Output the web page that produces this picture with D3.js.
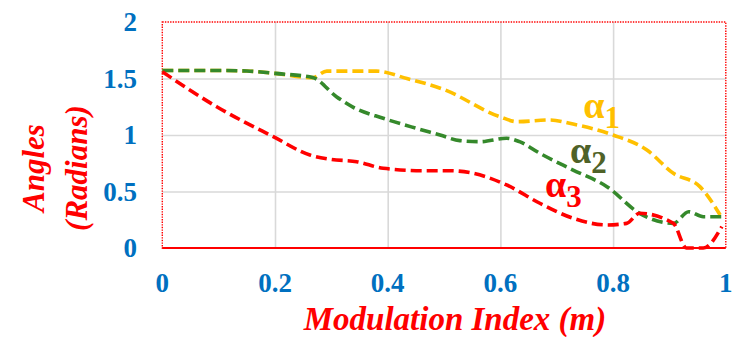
<!DOCTYPE html>
<html>
<head>
<meta charset="utf-8">
<script src="https://cdn.jsdelivr.net/npm/d3@7"></script>
<style>
  body { margin: 0; background: #fff; }
  text { font-family: "Liberation Serif", "Times New Roman", serif; }
</style>
</head>
<body>
<div id="chart"></div>
<script>
// data
var xTicks = [0, 0.2, 0.4, 0.6, 0.8, 1];
var yTicks = [0, 0.5, 1, 1.5, 2];
var seriesNames = ["1", "2", "3"];

var m1 = [0, 0.1, 0.15, 0.2, 0.267, 0.292, 0.38, 0.434, 0.499, 0.599, 0.629, 0.688, 0.729, 0.8, 0.86, 0.907, 0.954, 0.99];
var a1 = [1.571, 1.571, 1.566, 1.545, 1.508, 1.565, 1.565, 1.5, 1.404, 1.162, 1.118, 1.133, 1.097, 1.0, 0.867, 0.661, 0.543, 0.292];

var m2 = [0, 0.1, 0.15, 0.2, 0.267, 0.309, 0.339, 0.392, 0.451, 0.493, 0.528, 0.564, 0.611, 0.634, 0.67, 0.729, 0.789, 0.847, 0.907, 0.934, 0.96, 0.993];
var a2 = [1.571, 1.571, 1.566, 1.545, 1.508, 1.339, 1.245, 1.148, 1.059, 1.0, 0.95, 0.941, 0.971, 0.941, 0.838, 0.69, 0.543, 0.307, 0.218, 0.321, 0.277, 0.277];

var m3 = [0, 0.0965, 0.197, 0.262, 0.298, 0.345, 0.392, 0.463, 0.51, 0.552, 0.611, 0.67, 0.729, 0.789, 0.824, 0.847, 0.907, 0.93, 0.96, 0.993];
var a3 = [1.56, 1.25, 0.985, 0.823, 0.785, 0.764, 0.705, 0.684, 0.684, 0.661, 0.558, 0.396, 0.263, 0.204, 0.218, 0.307, 0.218, 0.0, 0.0, 0.19];

// label anchor points (m, angle) for the alpha labels
var labelM = [0.747, 0.7235, 0.679];
var labelA = [1.15, 0.752, 0.451];

var width = 734, height = 337;
var plotLeft = 162.3, plotRight = 725.8, plotTop = 22, plotBottom = 248;

var lineColors = ["#FFC000", "#35892B", "#FF0000"];
var labelColors = ["#FFC000", "#4F6228", "#FF0000"];

var svg = d3.select("#chart").append("svg")
  .attr("width", width)
  .attr("height", height);

var xScale = d3.scaleLinear().domain([0, 1]).range([plotLeft, plotRight]);
var yScale = d3.scaleLinear().domain([0, 2]).range([plotBottom, plotTop]);

// gridlines
svg.append("g")
  .attr("transform", "translate(0," + plotBottom + ")")
  .call(d3.axisBottom(xScale).tickValues(xTicks.slice(1, -1)).tickSize(-(plotBottom - plotTop)).tickFormat(""))
  .call(function(g) {
    g.select(".domain").remove();
    g.selectAll("line").attr("stroke", "#d9d9d9").attr("stroke-width", 1.6);
  });

svg.append("g")
  .attr("transform", "translate(" + plotLeft + ",0)")
  .call(d3.axisLeft(yScale).tickValues(yTicks.slice(1, -1)).tickSize(-(plotRight - plotLeft)).tickFormat(""))
  .call(function(g) {
    g.select(".domain").remove();
    g.selectAll("line").attr("stroke", "#d9d9d9").attr("stroke-width", 1.6);
  });

// plot area border (dotted red)
svg.append("rect")
  .attr("x", plotLeft)
  .attr("y", plotTop)
  .attr("width", plotRight - plotLeft)
  .attr("height", plotBottom - plotTop)
  .attr("fill", "none")
  .attr("stroke", "#FF0000")
  .attr("stroke-width", 1.4)
  .attr("stroke-dasharray", "1.4,1.2");

// lines
var line = d3.line()
  .x(function(d) { return xScale(d[0]); })
  .y(function(d) { return yScale(d[1]); })
  .curve(d3.curveMonotoneX);

var series = [d3.zip(m1, a1), d3.zip(m2, a2), d3.zip(m3, a3)];

for (var i = 0; i < series.length; i++) {
  svg.append("path")
    .datum(series[i])
    .attr("d", line)
    .attr("fill", "none")
    .attr("stroke", lineColors[i])
    .attr("stroke-width", 3.6)
    .attr("stroke-dasharray", "11,5");
}

// x axis line (solid red)
svg.append("line")
  .attr("x1", plotLeft).attr("x2", plotRight)
  .attr("y1", plotBottom).attr("y2", plotBottom)
  .attr("stroke", "#FF0000")
  .attr("stroke-width", 2.2);

// tick labels
svg.selectAll(".xlab")
  .data(xTicks)
  .enter().append("text")
  .attr("x", function(d) { return xScale(d); })
  .attr("y", 292)
  .attr("text-anchor", "middle")
  .style("font-size", "27px")
  .style("font-weight", "bold")
  .style("fill", "#0070C0")
  .text(function(d) { return d; });

svg.selectAll(".ylab")
  .data(yTicks)
  .enter().append("text")
  .attr("x", 137)
  .attr("y", function(d) { return yScale(d) + 9; })
  .attr("text-anchor", "end")
  .style("font-size", "27px")
  .style("font-weight", "bold")
  .style("fill", "#0070C0")
  .text(function(d) { return d; });

// axis titles
svg.append("text")
  .attr("x", 455)
  .attr("y", 330)
  .attr("text-anchor", "middle")
  .style("font-size", "33px")
  .style("font-weight", "bold")
  .style("font-style", "italic")
  .style("fill", "#FF0000")
  .text("Modulation Index (m)");

svg.append("text")
  .attr("transform", "translate(44,168) rotate(-90)")
  .attr("text-anchor", "middle")
  .style("font-size", "31px")
  .style("font-weight", "bold")
  .style("font-style", "italic")
  .style("fill", "#FF0000")
  .text("Angles");

svg.append("text")
  .attr("transform", "translate(87,168) rotate(-90)")
  .attr("text-anchor", "middle")
  .style("font-size", "31px")
  .style("font-weight", "bold")
  .style("font-style", "italic")
  .style("fill", "#FF0000")
  .text("(Radians)");

// alpha labels
for (var i = 0; i < seriesNames.length; i++) {
  var t = svg.append("text")
    .attr("x", xScale(labelM[i]))
    .attr("y", yScale(labelA[i]))
    .style("font-weight", "bold")
    .style("fill", labelColors[i]);
  t.append("tspan").style("font-size", "38px").text("\u03B1");
  t.append("tspan").attr("dy", 10).style("font-size", "31px").text(seriesNames[i]);
}
</script>
</body>
</html>
